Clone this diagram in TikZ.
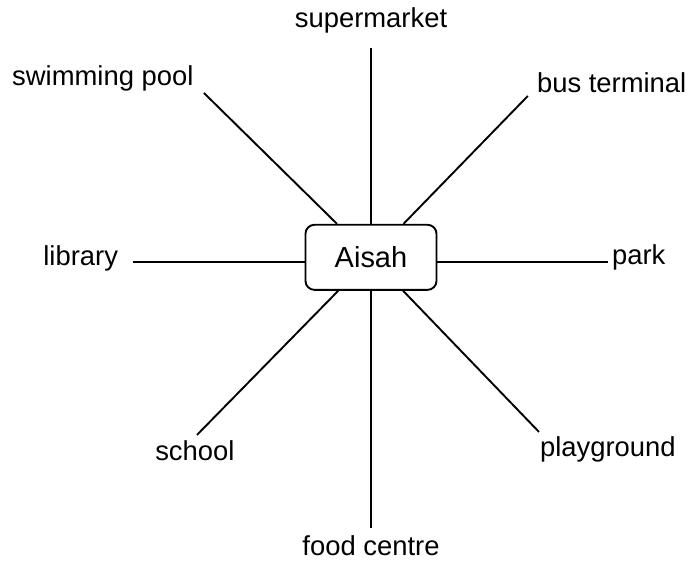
\documentclass[tikz,border=0pt]{standalone}
\usepackage{fontspec}
\setmainfont{Liberation Sans}

\begin{document}
\begin{tikzpicture}[
    person/.style={rectangle, rounded corners=0.3cm, draw=black, line width=1.8pt, minimum width=4.37cm, minimum height=2.17cm, font=\fontsize{27.5}{30}\selectfont},
    place/.style={font=\fontsize{26}{30}\selectfont, inner sep=0pt},
    link/.style={line width=1.8pt}
]
\useasboundingbox (-12.37,-9.97) rectangle (10.77,8.73);

% Centre
\node[person] (aisah) at (0,0.15) {Aisah};

% Places
\node[place, anchor=base] (market) at (0,7.8) {supermarket};
\node[place, anchor=base west] (pool) at (-11.97,5.87) {swimming pool};
\node[place, anchor=base west] (bus) at (5.53,5.64) {bus terminal};
\node[place, anchor=base west] (library) at (-10.93,-0.13) {library};
\node[place, anchor=base west] (park) at (8.03,-0.1) {park};
\node[place, anchor=base west] (school) at (-7.2,-6.63) {school};
\node[place, anchor=base west] (playground) at (5.63,-6.48) {playground};
\node[place, anchor=base] (food) at (0,-9.8) {food centre};

% Line ends
\coordinate (marketend) at (0,7.13);
\coordinate (poolend) at (-5.57,5.63);
\coordinate (busend) at (5.23,5.53);
\coordinate (libraryend) at (-7.93,0);
\coordinate (parkend) at (7.9,0);
\coordinate (schoolend) at (-5.8,-5.77);
\coordinate (playgroundend) at (5.6,-5.67);
\coordinate (foodend) at (0,-8.87);

% Connections
\draw[link] (aisah) -- (marketend);
\draw[link] (aisah) -- (poolend);
\draw[link] (aisah) -- (busend);
\draw[link] (aisah.west |- libraryend) -- (libraryend);
\draw[link] (aisah.east |- parkend) -- (parkend);
\draw[link] (aisah) -- (schoolend);
\draw[link] (aisah) -- (playgroundend);
\draw[link] (aisah) -- (foodend);

\end{tikzpicture}
\end{document}
